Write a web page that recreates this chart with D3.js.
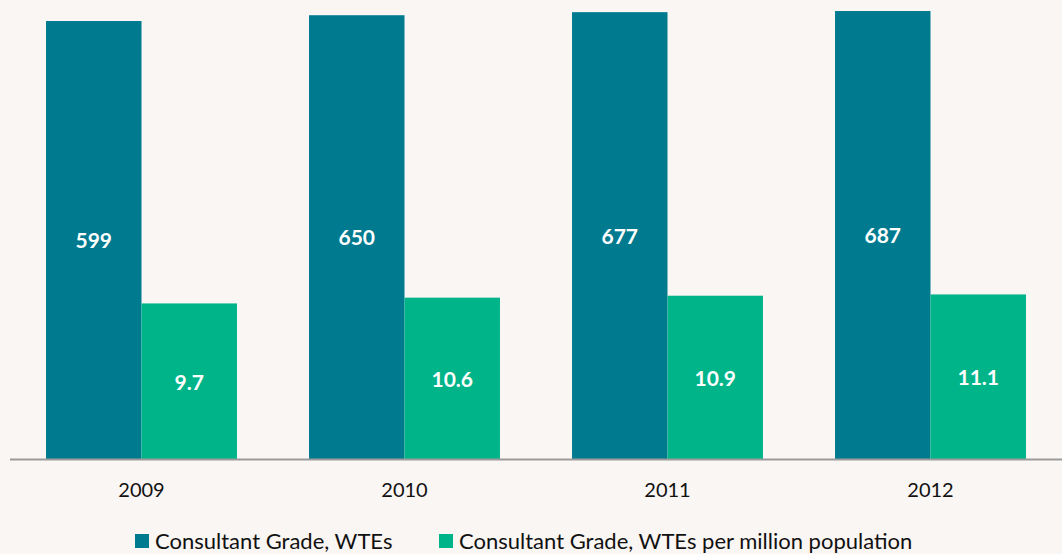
<!DOCTYPE html>
<html>
<head>
<meta charset="utf-8">
<script src="https://cdn.jsdelivr.net/npm/d3@7"></script>
<style>
  body { margin: 0; background: #faf6f3; }
  svg { display: block; font-family: Lato, "Open Sans", sans-serif; }
</style>
</head>
<body>
<div id="chart"></div>
<script>
var width = 1062;
var height = 554;

var years = ['2009', '2010', '2011', '2012'];
var wtes = [599, 650, 677, 687];
var wtesPerMillion = [9.7, 10.6, 10.9, 11.1];
var seriesNames = ['Consultant Grade, WTEs', 'Consultant Grade, WTEs per million population'];
var seriesColors = ['#007a8f', '#00b489'];
// the two hidden value axes of the original chart
var leftDomain = [-3256, 784];
var rightDomain = [-14.5, 56.9];

var baseY = 459;

var svg = d3.select('#chart')
    .append('svg')
    .attr('width', width)
    .attr('height', height);

svg.append('rect')
    .attr('width', width)
    .attr('height', height)
    .style('fill', '#faf6f3');

var x = d3.scaleBand()
    .domain(years)
    .range([10, 1062])
    .paddingInner(0.274)
    .paddingOuter(0.137);

var sub = d3.scaleBand()
    .domain([0, 1])
    .range([0, x.bandwidth()]);

var yLeft = d3.scaleLinear().domain(leftDomain).range([baseY, 0]);
var yRight = d3.scaleLinear().domain(rightDomain).range([baseY, 0]);

var rows = years.map(function (yr, i) {
    return [
        {year: yr, s: 0, value: wtes[i], y: yLeft, label: String(wtes[i])},
        {year: yr, s: 1, value: wtesPerMillion[i], y: yRight, label: wtesPerMillion[i].toFixed(1)}
    ];
});
var bars = [].concat.apply([], rows);

svg.selectAll('rect.bar')
    .data(bars)
    .enter()
    .append('rect')
    .attr('class', 'bar')
    .attr('x', function (d) { return x(d.year) + sub(d.s); })
    .attr('y', function (d) { return d.y(d.value); })
    .attr('width', sub.bandwidth())
    .attr('height', function (d) { return baseY - d.y(d.value); })
    .style('fill', function (d) { return seriesColors[d.s]; });

svg.selectAll('text.val')
    .data(bars)
    .enter()
    .append('text')
    .attr('class', 'val')
    .attr('x', function (d) { return x(d.year) + sub(d.s) + sub.bandwidth() / 2; })
    .attr('y', function (d) { return (d.y(d.value) + baseY) / 2 + 1; })
    .attr('dy', '0.35em')
    .attr('text-anchor', 'middle')
    .style('fill', 'white')
    .style('font-weight', 'bold')
    .style('font-size', '21px')
    .text(function (d) { return d.label; });

var xAxis = svg.append('g')
    .attr('transform', 'translate(0,' + baseY + ')')
    .call(d3.axisBottom(x).tickSize(0).tickPadding(24));
xAxis.select('.domain')
    .attr('d', 'M10,0.5H1062')
    .style('stroke', '#9b9b9b')
    .style('stroke-width', 2);
xAxis.selectAll('text')
    .style('font-family', 'Lato, "Open Sans", sans-serif')
    .style('font-size', '20px')
    .style('fill', '#111');

var legendX = [135, 439];
var legend = svg.selectAll('g.legend')
    .data(seriesNames)
    .enter()
    .append('g')
    .attr('class', 'legend')
    .attr('transform', function (d, i) { return 'translate(' + legendX[i] + ',534)'; });
legend.append('rect')
    .attr('width', 14)
    .attr('height', 14)
    .style('fill', function (d, i) { return seriesColors[i]; });
legend.append('text')
    .attr('x', 20)
    .attr('y', 7)
    .attr('dy', '0.35em')
    .style('font-size', '22px')
    .style('fill', '#111')
    .text(function (d) { return d; });
</script>
</body>
</html>
